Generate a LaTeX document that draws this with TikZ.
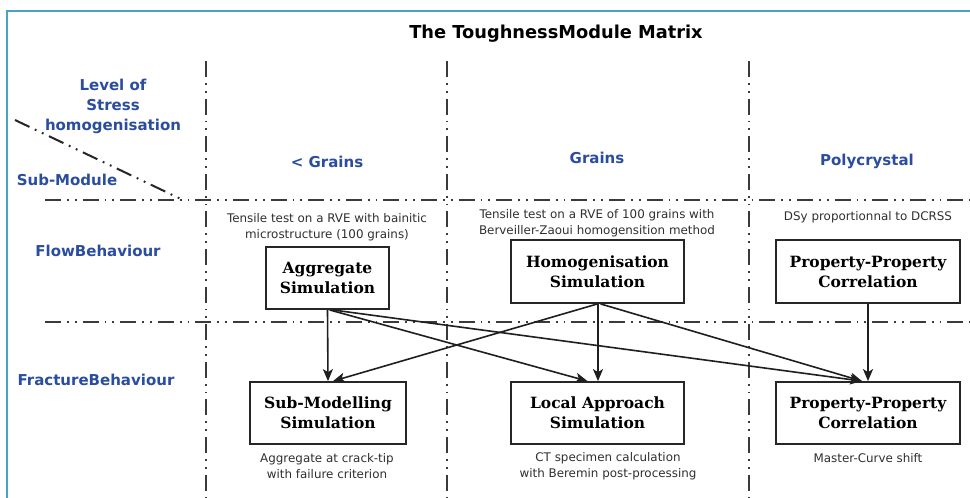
\documentclass[tikz,border=0pt]{standalone}
\usepackage{fontspec}
\setmainfont{DejaVu Sans}
\newfontfamily\serifb{DejaVu Serif}
\usetikzlibrary{arrows.meta,calc}
\definecolor{hblue}{HTML}{2A4DA0}
\definecolor{frameblue}{HTML}{4AA3C4}
\definecolor{linegray}{HTML}{3A3A3A}
\definecolor{notegray}{HTML}{303030}
\begin{document}
\begin{tikzpicture}[x=1pt,y=-1pt,
  dashdot/.style={draw=linegray,line width=2pt,dash pattern=on 16pt off 6pt on 1.8pt off 6pt on 1.8pt off 6pt},
  lbl/.style={text=hblue,font=\bfseries\fontsize{15}{20}\selectfont,align=center,inner sep=0pt},
  box/.style={draw=black!85,line width=1.8pt,fill=white,align=center,font=\serifb\bfseries\fontsize{15.5}{20}\selectfont,inner sep=2pt},
  note/.style={text=notegray,font=\fontsize{11.9}{16}\selectfont,align=center,inner sep=0pt},
  arr/.style={draw=black!88,line width=1.6pt,-{Stealth[length=12pt,width=10pt,inset=3pt]}}]
\useasboundingbox (0,0) rectangle (970,498);
\fill[white] (0,0) rectangle (970,498);
\draw[frameblue,line width=2pt] (970,11) -- (7,11) -- (7,498);

\node[font=\bfseries\fontsize{17.8}{21}\selectfont] (title) at (556,34) {The ToughnessModule Matrix};

% grid lines
\draw[dashdot] (206,61) -- (206,498);
\draw[dashdot] (447,61) -- (447,498);
\draw[dashdot] (749,61) -- (749,498);
\draw[dashdot] (45,200) -- (970,200);
\draw[dashdot] (45,322) -- (970,322);
\draw[draw=black!85,line width=2pt,dash pattern=on 16pt off 6pt on 1.8pt off 6pt on 1.8pt off 6pt] (15,120) -- (183,200);

% labels
\node[lbl] (lev) at (113,106) {Level of\\Stress\\homogenisation};
\node[lbl] (sm) at (67,180) {Sub-Module};
\node[lbl] (lg) at (327,162) {< Grains};
\node[lbl] (gr) at (597,158) {Grains};
\node[lbl] (pc) at (867,161) {Polycrystal};
\node[lbl] (fb) at (98,251) {FlowBehaviour};
\node[lbl] (frb) at (96,380) {FractureBehaviour};

% boxes
\node[box,minimum width=123,minimum height=62] (agg) at (327.5,278) {Aggregate\\Simulation};
\node[box,minimum width=173,minimum height=63] (hom) at (597.5,271.5) {Homogenisation\\Simulation};
\node[box,minimum width=184,minimum height=63] (ppa) at (868,271.5) {Property-Property\\Correlation};
\node[box,minimum width=156,minimum height=62] (sub) at (328,413) {Sub-Modelling\\Simulation};
\node[box,minimum width=173,minimum height=62] (loc) at (597.5,413) {Local Approach\\Simulation};
\node[box,minimum width=184,minimum height=62] (ppb) at (868,413) {Property-Property\\Correlation};

% notes
\node[note] (n1) at (327,227) {Tensile test on a RVE with bainitic\\microstructure (100 grains)};
\node[note] (n2) at (597,223) {Tensile test on a RVE of 100 grains with\\Berveiller-Zaoui homogensition method};
\node[note] (n3) at (868,217) {DSy proportionnal to DCRSS};
\node[note] (n4) at (327,466) {Aggregate at crack-tip\\with failure criterion};
\node[note] (n5) at (608,466) {CT specimen calculation\\with Beremin post-processing};
\node[note] (n6) at (868,458) {Master-Curve shift};

% arrows
\draw[arr] (agg.south) -- (sub.north);
\draw[arr] ($(agg.south)+(2,0)$) -- ($(loc.north)+(-10,0)$);
\draw[arr] ($(agg.south)+(5,0)$) -- ($(ppb.north)+(-6,0)$);
\draw[arr] (hom.south) -- ($(sub.north)+(5,0)$);
\draw[arr] ($(hom.south)+(0.5,0)$) -- ($(loc.north)+(0.5,0)$);
\draw[arr] ($(hom.south)+(3,0)$) -- ($(ppb.north)+(-6,0)$);
\draw[arr] (ppa.south) -- (ppb.north);
\end{tikzpicture}
\end{document}
